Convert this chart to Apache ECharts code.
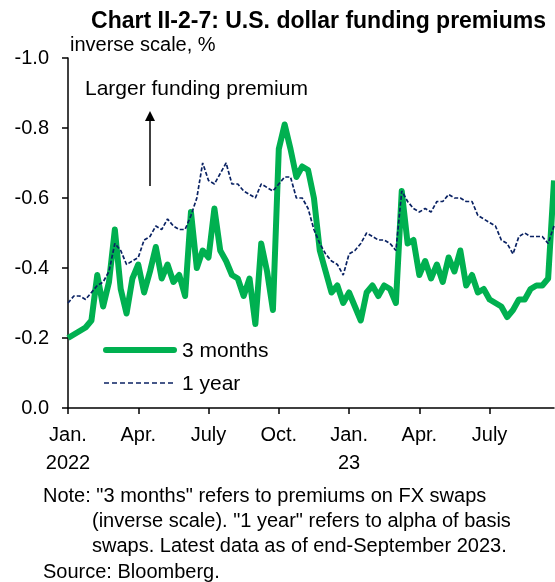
<!DOCTYPE html>
<html>
<head>
<meta charset="utf-8">
<script src="https://cdn.jsdelivr.net/npm/echarts@6/dist/echarts.min.js"></script>
<style>
  html, body { margin: 0; padding: 0; background: #fff; }
  #main { width: 555px; height: 582px; }
</style>
</head>
<body>
<div id="main"></div>
<script>
// quarter-month steps from Jan. 2022 (index / 4 = months since start)
var threeMonths = [
  -0.20, -0.21, -0.22, -0.23, -0.25, -0.38, -0.29, -0.36, -0.51, -0.34,
  -0.27, -0.37, -0.41, -0.33, -0.39, -0.46, -0.37, -0.41, -0.36, -0.38,
  -0.32, -0.56, -0.40, -0.45, -0.43, -0.57, -0.45, -0.42, -0.38, -0.37,
  -0.32, -0.37, -0.24, -0.47, -0.39, -0.28, -0.74, -0.81, -0.74, -0.66,
  -0.69, -0.68, -0.60, -0.45, -0.39, -0.33, -0.35, -0.30, -0.33, -0.29,
  -0.25, -0.33, -0.35, -0.32, -0.35, -0.34, -0.30, -0.62, -0.47, -0.48,
  -0.38, -0.42, -0.37, -0.41, -0.36, -0.43, -0.39, -0.45, -0.35, -0.38,
  -0.33, -0.34, -0.31, -0.30, -0.29, -0.26, -0.28, -0.31, -0.31, -0.34,
  -0.35, -0.35, -0.37, -0.65
];
var oneYear = [
  -0.30, -0.32, -0.32, -0.31, -0.33, -0.35, -0.36, -0.39, -0.47, -0.45,
  -0.41, -0.42, -0.43, -0.48, -0.49, -0.52, -0.51, -0.54, -0.52, -0.51,
  -0.51, -0.55, -0.60, -0.70, -0.65, -0.64, -0.67, -0.70, -0.64, -0.64,
  -0.62, -0.61, -0.60, -0.64, -0.63, -0.62, -0.64, -0.66, -0.66, -0.60,
  -0.60, -0.57, -0.51, -0.47, -0.44, -0.42, -0.41, -0.38, -0.44, -0.45,
  -0.47, -0.50, -0.49, -0.48, -0.48, -0.47, -0.45, -0.62, -0.59, -0.57,
  -0.56, -0.57, -0.56, -0.59, -0.59, -0.61, -0.60, -0.60, -0.59, -0.59,
  -0.55, -0.54, -0.53, -0.52, -0.48, -0.47, -0.44, -0.49, -0.50, -0.49,
  -0.49, -0.49, -0.47, -0.52
];
var tickLabels = {0: 'Jan.\n2022', 3: 'Apr.', 6: 'July', 9: 'Oct.', 12: 'Jan.\n23', 15: 'Apr.', 18: 'July'};
var noteLines = [
  'Note: "3 months" refers to premiums on FX swaps',
  '(inverse scale). "1 year" refers to alpha of basis',
  'swaps. Latest data as of end-September 2023.',
  'Source: Bloomberg.'
];

var green = '#00B050';
var navy = '#0A2263';

function toPairs(arr) {
  return arr.map(function (v, i) { return [i / 4, v]; });
}

var font = 'Liberation Sans, Arial, sans-serif';
var myChart = echarts.init(document.getElementById('main'));

myChart.setOption({
  animation: false,
  backgroundColor: '#fff',
  title: {
    text: 'Chart II-2-7: U.S. dollar funding premiums',
    right: 4,
    top: 5,
    textStyle: { fontFamily: font, fontSize: 23, fontWeight: 'bold', color: '#000' }
  },
  grid: { left: 68, right: 1, top: 58, bottom: 174 },
  xAxis: {
    type: 'value',
    min: 0,
    max: 20.75,
    interval: 3,
    splitLine: { show: false },
    axisLine: { lineStyle: { color: '#000', width: 1.5 } },
    axisTick: { lineStyle: { color: '#000', width: 1.5 }, length: 6 },
    axisLabel: {
      fontFamily: font, fontSize: 20, color: '#000', lineHeight: 28, margin: 13,
      showMaxLabel: false,
      formatter: function (v) { return tickLabels[v] || ''; }
    }
  },
  yAxis: {
    type: 'value',
    inverse: true,
    min: -1,
    max: 0,
    interval: 0.2,
    splitLine: { show: false },
    axisLine: { show: true, lineStyle: { color: '#000', width: 1.5 } },
    axisTick: { show: true, lineStyle: { color: '#000', width: 1.5 }, length: 6 },
    axisLabel: {
      fontFamily: font, fontSize: 20, color: '#000', margin: 19,
      formatter: function (v) { return Math.abs(v) < 1e-9 ? '0.0' : v.toFixed(1); }
    }
  },
  graphic: [
    { type: 'text', left: 70, top: 35, style: { text: 'inverse scale, %', font: '20px ' + font, fill: '#000' } },
    { type: 'text', left: 85, top: 79, style: { text: 'Larger funding premium', font: '21px ' + font, fill: '#000' } },
    { type: 'line', shape: { x1: 150, y1: 186, x2: 150, y2: 120 }, style: { stroke: '#000', lineWidth: 1.5 } },
    { type: 'polygon', shape: { points: [[145, 121], [155, 121], [150, 111]] }, style: { fill: '#000' } },
    // legend
    { type: 'line', shape: { x1: 106, y1: 350, x2: 174, y2: 350 }, style: { stroke: green, lineWidth: 6, lineCap: 'round' } },
    { type: 'text', left: 182, top: 341, style: { text: '3 months', font: '21px ' + font, fill: '#000' } },
    { type: 'line', shape: { x1: 104, y1: 383, x2: 176, y2: 383 }, style: { stroke: navy, lineWidth: 1.6, lineDash: [5, 3] } },
    { type: 'text', left: 182, top: 374, style: { text: '1 year', font: '21px ' + font, fill: '#000' } },
    // notes
    { type: 'text', left: 43, top: 486, style: { text: noteLines[0], font: '20px ' + font, fill: '#000' } },
    { type: 'text', left: 92, top: 511, style: { text: noteLines[1], font: '20px ' + font, fill: '#000' } },
    { type: 'text', left: 92, top: 536, style: { text: noteLines[2], font: '20px ' + font, fill: '#000' } },
    { type: 'text', left: 43, top: 562, style: { text: noteLines[3], font: '20px ' + font, fill: '#000' } }
  ],
  series: [
    {
      name: '3 months',
      type: 'line',
      symbol: 'none',
      data: toPairs(threeMonths),
      lineStyle: { color: green, width: 6, join: 'round' },
      z: 2
    },
    {
      name: '1 year',
      type: 'line',
      symbol: 'none',
      data: toPairs(oneYear),
      lineStyle: { color: navy, width: 1.7, type: [4, 2] },
      z: 3
    }
  ]
});
</script>
</body>
</html>
